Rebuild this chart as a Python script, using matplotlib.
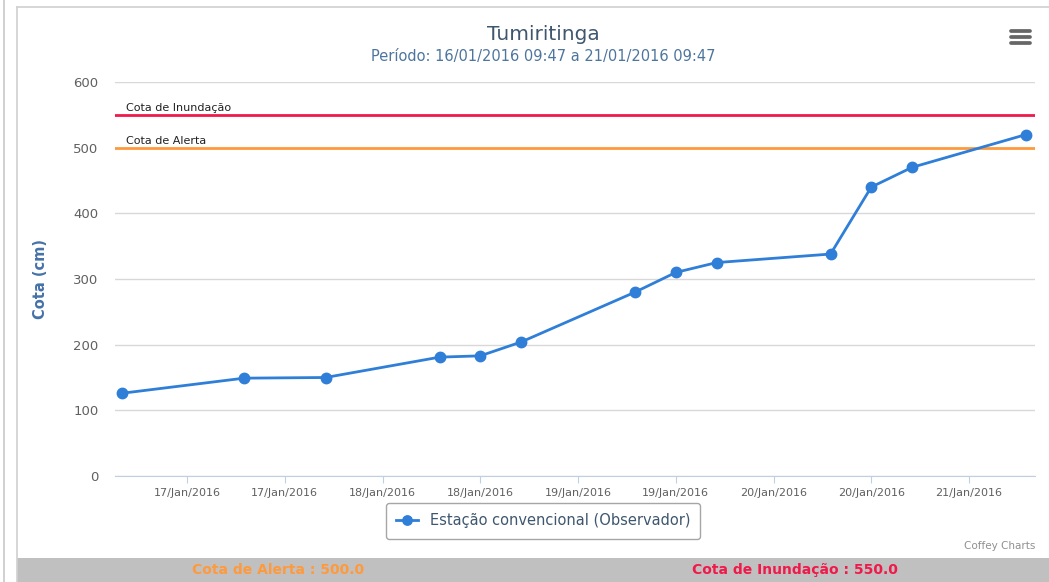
import datetime as dt
import matplotlib
matplotlib.use('Agg')
import matplotlib.pyplot as plt
import matplotlib.dates as mdates
from matplotlib.patches import Rectangle
from matplotlib.lines import Line2D

# data
times = ['2016-01-16 16:00', '2016-01-17 07:00', '2016-01-17 17:00',
         '2016-01-18 07:00', '2016-01-18 12:00', '2016-01-18 17:00',
         '2016-01-19 07:00', '2016-01-19 12:00', '2016-01-19 17:00',
         '2016-01-20 07:00', '2016-01-20 12:00', '2016-01-20 17:00',
         '2016-01-21 07:00']
cota = [126, 149, 150, 181, 183, 204, 280, 310, 325, 338, 440, 470, 520]
cota_alerta = 500
cota_inundacao = 550
yticks = [0, 100, 200, 300, 400, 500, 600]

dates = [dt.datetime.strptime(t, '%Y-%m-%d %H:%M') for t in times]

fig = plt.figure(figsize=(10.49, 5.82), dpi=100)
ax = fig.add_axes([115/1049, 1 - 476/582, 920/1049, 394/582])

# frame around the chart
fig.add_artist(Line2D([3.5/1049, 3.5/1049], [0, 1], color='#c8c8c8', lw=1.2))
fig.add_artist(Line2D([17/1049, 17/1049], [0, 1 - 7/582], color='#d0d0d0', lw=1.2))
fig.add_artist(Line2D([17/1049, 1], [1 - 7/582, 1 - 7/582], color='#d0d0d0', lw=1.2))

# bottom bar
fig.add_artist(Rectangle((17/1049, 0), 1 - 17/1049, 24/582,
                         transform=fig.transFigure, color='#c0c0c0', lw=0))
fig.text(278/1049, 12/582, 'Cota de Alerta : 500.0', ha='center', va='center',
         color='#ff9a3c', fontsize=10, fontweight='bold')
fig.text(795/1049, 12/582, 'Cota de Inundação : 550.0', ha='center', va='center',
         color='#f0194a', fontsize=10, fontweight='bold')

# hamburger menu
for yy in [31, 37, 43]:
    fig.add_artist(Line2D([1011/1049, 1030/1049], [1 - yy/582, 1 - yy/582],
                          color='#666666', lw=2.7, solid_capstyle='round'))

# titles
fig.text(0.5183, 1 - 35/582, 'Tumiritinga', ha='center', va='center',
         color='#3e576f', fontsize=14.5)
fig.text(0.5183, 1 - 56/582, 'Período: 16/01/2016 09:47 a 21/01/2016 09:47',
         ha='center', va='center', color='#4d759e', fontsize=10.5)

# plot lines
ax.axhline(cota_inundacao, color='#f0194a', lw=2, zorder=3)
ax.axhline(cota_alerta, color='#ff9a3c', lw=2, zorder=3)

ax.plot(dates, cota, '-o', color='#2f7ed8', lw=2, ms=7.5, zorder=4,
        label='Estação convencional (Observador)')

x0 = dates[0] - dt.timedelta(hours=0.85)
x1 = dates[-1] + dt.timedelta(hours=1.1)
ax.set_xlim(x0, x1)
ax.set_ylim(0, 600)

ax.text(x0 + dt.timedelta(hours=1.4), cota_inundacao + 6, 'Cota de Inundação',
        fontsize=8, color='#222222', zorder=5)
ax.text(x0 + dt.timedelta(hours=1.4), cota_alerta + 6, 'Cota de Alerta',
        fontsize=8, color='#222222', zorder=5)

# axes styling
ax.set_yticks(yticks)
ax.grid(axis='y', color='#d8d8d8', lw=1)
ax.set_axisbelow(True)
for s in ['top', 'right', 'left']:
    ax.spines[s].set_visible(False)
ax.spines['bottom'].set_color('#c0d0e0')
ax.spines['bottom'].set_zorder(2)

ax.xaxis.set_major_locator(mdates.HourLocator(byhour=[0, 12]))
ax.xaxis.set_major_formatter(mdates.DateFormatter('%d/%b/%Y'))
ax.tick_params(axis='x', colors='#c0d0e0', length=5, labelcolor='#606060',
               labelsize=8, pad=4)
ax.tick_params(axis='y', length=0, labelcolor='#606060', labelsize=9.5, pad=12)

ax.set_ylabel('Cota (cm)', color='#4572a7', fontsize=10.5, fontweight='bold',
              labelpad=18)

leg = ax.legend(loc='center', bbox_to_anchor=(543/1049, 1 - 521/582),
                bbox_transform=fig.transFigure, frameon=True, fancybox=True,
                edgecolor='#909090', fontsize=10.5, handlelength=1.5,
                borderpad=0.7, markerscale=0.9)
leg.get_frame().set_linewidth(1)
for t in leg.get_texts():
    t.set_color('#3e576f')

fig.text(1035/1049, 1 - 546/582, 'Coffey Charts', ha='right', va='center',
         color='#909090', fontsize=7.5)

fig.savefig('out.png', dpi=100)
